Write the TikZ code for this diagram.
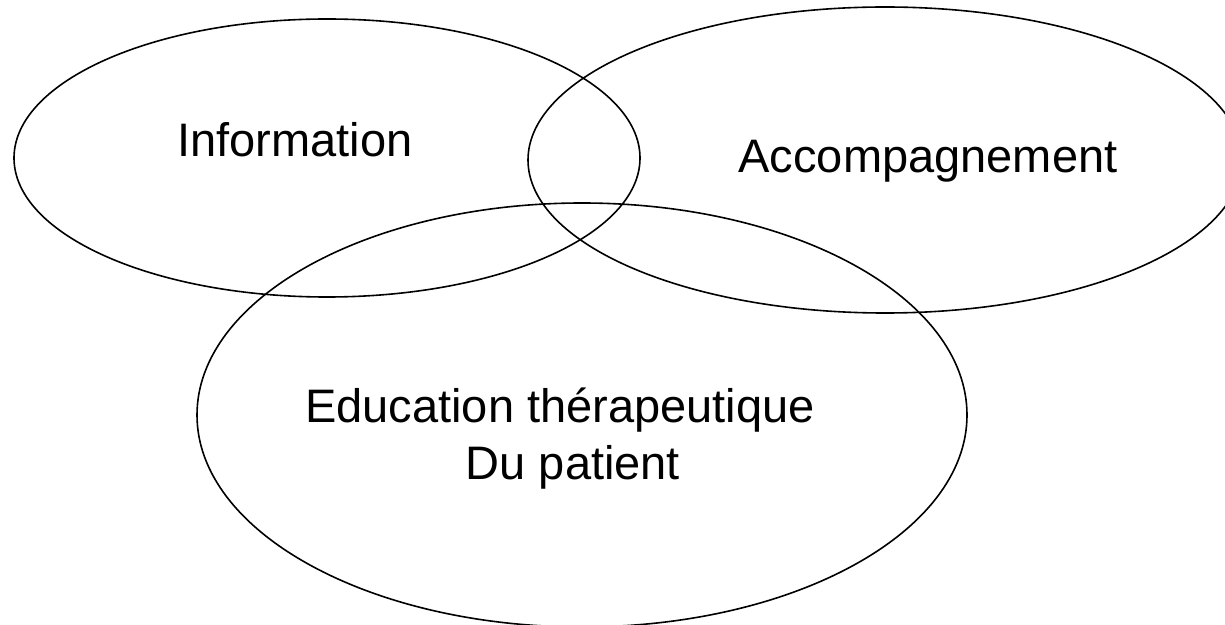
\documentclass[tikz,border=0pt]{standalone}
\usepackage{fontspec}
\setmainfont{Liberation Sans}
\usetikzlibrary{shapes.geometric}
\tikzstyle{bulle} = [ellipse, draw=black, line width=0.8pt, inner sep=0pt]
\tikzstyle{texte} = [align=center, font=\fontsize{23.5}{28}\selectfont]

\begin{document}
\begin{tikzpicture}[x=0.5pt, y=-0.5pt]
        \useasboundingbox (0,0) rectangle (1225,625);
        \node (info) [bulle, minimum width=313pt, minimum height=139pt] at (327,158) {};
        \node (accomp) [bulle, minimum width=357pt, minimum height=153pt] at (885,160) {};
        \node (educ) [bulle, minimum width=385pt, minimum height=212pt] at (582,415) {};

        \node (tinfo) [texte] at (295,140) {Information};
        \node (taccomp) [texte] at (928,161) {Accompagnement};
        \node (teduc) [texte] at (560,410) {Education thérapeutique};
        \node (tpatient) [texte] at (573,467) {Du patient};
    \end{tikzpicture}
\end{document}
